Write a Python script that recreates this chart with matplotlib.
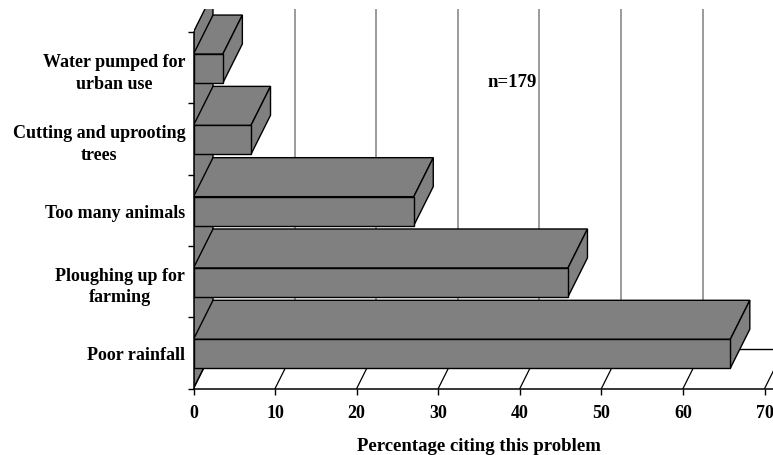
import matplotlib
matplotlib.use('Agg')
import matplotlib.pyplot as plt
from matplotlib.patches import Polygon

# bottom to top
categories = ['Poor rainfall', 'Ploughing up for\nfarming', 'Too many animals',
              'Cutting and uprooting\ntrees', 'Water pumped for\nurban use']
percent = [65.8, 45.9, 27.0, 7.05, 3.6]
x_ticks = [0, 10, 20, 30, 40, 50, 60, 70]

# fake 3d depth, in data units
dx = 2.39
dy = 0.547
bar_bottom = 0.285
bar_height = 0.405

GREY = '#808080'

plt.rcParams['font.family'] = ['Liberation Serif']
plt.rcParams['font.weight'] = 'bold'

W, H = 773, 456
fig = plt.figure(figsize=(W / 100, H / 100), dpi=100)
ax = fig.add_axes([193.5 / W, (H - 389.5) / H, (W - 193.5) / W, 379.5 / H])
ax.set_xlim(0, 71.03)
ax.set_ylim(0, 5.322)

n = len(categories)
for s in ['top', 'right']:
    ax.spines[s].set_visible(False)
for s in ['left', 'bottom']:
    ax.spines[s].set_linewidth(1.1)
    ax.spines[s].set_zorder(6)
ax.spines['left'].set_bounds(0, n)

# left wall
ax.add_patch(Polygon([(0, 0), (dx, dy), (dx, n + dy), (0, n)], closed=True,
                     facecolor=GREY, edgecolor='black', lw=1, zorder=1))

# floor and back wall lines
for t in x_ticks:
    ax.plot([t, t + dx], [0, dy], color='black', lw=0.9, zorder=1.5)
    if t not in (0, 70):
        ax.plot([t + dx, t + dx], [dy, 6], color=GREY, lw=1.1, zorder=1.2)
ax.plot([dx, 70 + dx], [dy, dy], color='black', lw=1, zorder=1.5)

# bars, back ones first so the front ones sit over them
for i in range(n - 1, -1, -1):
    v = percent[i]
    y0 = i + bar_bottom
    y1 = y0 + bar_height
    z = 2 + (n - i)
    ax.add_patch(Polygon([(0, y1), (dx, y1 + dy), (v + dx, y1 + dy), (v, y1)], closed=True,
                         facecolor=GREY, edgecolor='black', lw=1, zorder=z))
    ax.add_patch(Polygon([(v, y0), (v + dx, y0 + dy), (v + dx, y1 + dy), (v, y1)], closed=True,
                         facecolor=GREY, edgecolor='black', lw=1, zorder=z))
    ax.barh(y0, v, height=bar_height, align='edge', color=GREY, edgecolor='black', lw=1, zorder=z)

ax.set_xticks(x_ticks)
ax.set_yticks(range(n + 1))
ax.set_yticklabels([])
ax.set_yticks([i + 0.5 for i in range(n)], minor=True)
ax.set_yticklabels(categories, minor=True, multialignment='center', linespacing=1.38)
ax.tick_params(axis='y', which='minor', length=0, pad=6, labelsize=13)
ax.tick_params(axis='y', which='major', length=4.5, width=1)
ax.tick_params(axis='x', length=4.5, width=1, pad=7, labelsize=13)
for lab in ax.get_xticklabels():
    lab.set_clip_on(False)

ax.set_xlabel('Percentage citing this problem', fontsize=13.5, fontweight='bold')
ax.xaxis.set_label_coords((479 - 193.5) / (W - 193.5), -(446.5 - 389.5) / 379.5)
ax.xaxis.label.set_verticalalignment('center')

ax.text(39, 4.3, 'n=179', fontsize=13.5, ha='center', va='center', zorder=20)

fig.savefig('out.png', dpi=100)
